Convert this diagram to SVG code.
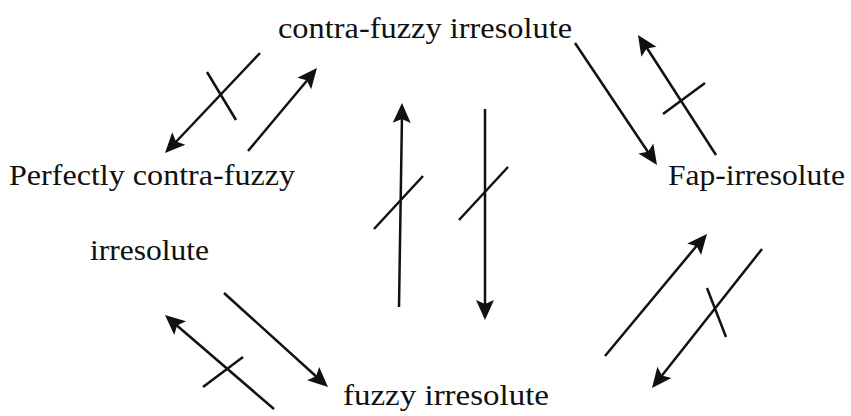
<svg xmlns="http://www.w3.org/2000/svg" width="851" height="416" viewBox="0 0 851 416">
<style>
  .lbl { font-family: "Liberation Serif", "Times New Roman", serif; font-size: 30px; fill: #111; }
  .ln { stroke: #111; stroke-width: 2.5; fill: none; }
  .hd { fill: #111; stroke: none; }
</style>
<defs>
  <path id="head" d="M0,0 L-20,-9 L-16,0 L-20,9 Z"/>
</defs>
<rect width="851" height="416" fill="#fff"/>
<g id="node-contra">
  <text class="lbl" x="278" y="38" textLength="294" lengthAdjust="spacingAndGlyphs">contra-fuzzy irresolute</text>
</g>
<g id="node-perfectly">
  <text class="lbl" x="9" y="185" textLength="286" lengthAdjust="spacingAndGlyphs">Perfectly contra-fuzzy</text>
  <text class="lbl" x="90" y="260" textLength="119" lengthAdjust="spacingAndGlyphs">irresolute</text>
</g>
<g id="node-fap">
  <text class="lbl" x="668" y="185" textLength="177" lengthAdjust="spacingAndGlyphs">Fap-irresolute</text>
</g>
<g id="node-fuzzy">
  <text class="lbl" x="343" y="405" textLength="206" lengthAdjust="spacingAndGlyphs">fuzzy irresolute</text>
</g>
<g id="connectors">
  <line class="ln" x1="260" y1="53" x2="173" y2="145"/>
  <use href="#head" class="hd" transform="translate(165,153) rotate(133.5)"/>
  <line class="ln" x1="207" y1="72" x2="236" y2="120"/>
  <line class="ln" x1="248" y1="151" x2="310" y2="77"/>
  <use href="#head" class="hd" transform="translate(317,68) rotate(-50.3)"/>
  <line class="ln" x1="399" y1="307" x2="402" y2="115"/>
  <use href="#head" class="hd" transform="translate(402,103) rotate(-89.2)"/>
  <line class="ln" x1="374" y1="229" x2="423" y2="176"/>
  <line class="ln" x1="485" y1="109" x2="485" y2="308"/>
  <use href="#head" class="hd" transform="translate(485,320) rotate(90)"/>
  <line class="ln" x1="459" y1="220" x2="508" y2="167"/>
  <line class="ln" x1="575" y1="43" x2="650" y2="155"/>
  <use href="#head" class="hd" transform="translate(657,165) rotate(56.1)"/>
  <line class="ln" x1="716" y1="155" x2="645" y2="45"/>
  <use href="#head" class="hd" transform="translate(638,35) rotate(-123)"/>
  <line class="ln" x1="663" y1="114" x2="705" y2="83"/>
  <line class="ln" x1="605" y1="356" x2="699" y2="243"/>
  <use href="#head" class="hd" transform="translate(707,234) rotate(-50.1)"/>
  <line class="ln" x1="762" y1="249" x2="660" y2="378"/>
  <use href="#head" class="hd" transform="translate(652,388) rotate(128.4)"/>
  <line class="ln" x1="707" y1="288" x2="726" y2="337"/>
  <line class="ln" x1="224" y1="293" x2="319" y2="379"/>
  <use href="#head" class="hd" transform="translate(328,387) rotate(42.1)"/>
  <line class="ln" x1="274" y1="409" x2="174" y2="323"/>
  <use href="#head" class="hd" transform="translate(165,315) rotate(-139.2)"/>
  <line class="ln" x1="203" y1="387" x2="243" y2="357"/>
</g>
</svg>
